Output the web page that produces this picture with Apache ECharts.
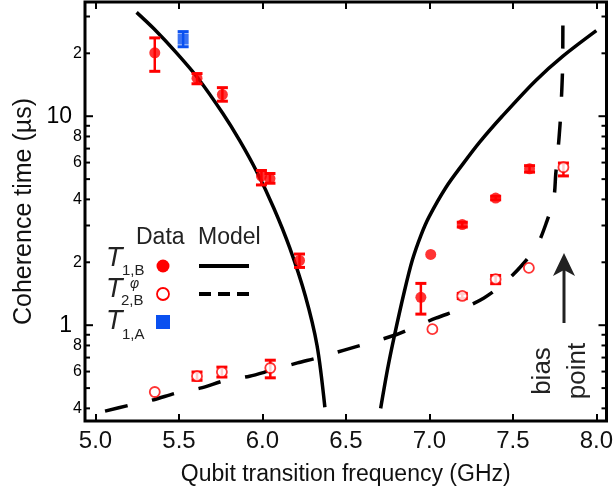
<!DOCTYPE html>
<html>
<head>
<meta charset="utf-8">
<title>Coherence time</title>
<script src="https://cdn.jsdelivr.net/npm/echarts@6/dist/echarts.min.js"></script>
<style>
    html, body { margin: 0; padding: 0; background: #fff; }
    #main { width: 616px; height: 491px; }
</style>
</head>
<body>
<div id="main"></div>
<script>
// measured T1 of qubit B (filled circles)
var t1bFreq = [5.355, 5.608, 5.76, 5.994, 6.045, 6.222, 6.949, 7.008, 7.197, 7.397, 7.6];
var t1bTime = [20.1, 15.2, 12.7, 5.17, 5.03, 2.04, 1.36, 2.18, 3.03, 4.06, 5.6];
var t1bLow = [16.4, 14.3, 11.8, 4.69, 4.78, 1.89, 1.13, 2.18, 2.95, 3.98, 5.4];
var t1bHigh = [23.7, 16.0, 13.7, 5.5, 5.32, 2.19, 1.585, 2.18, 3.11, 4.14, 5.8];

// measured T2 (phi) of qubit B (open circles)
var t2bFreq = [5.355, 5.608, 5.757, 6.047, 7.018, 7.197, 7.397, 7.596, 7.803];
var t2bTime = [0.479, 0.57, 0.597, 0.624, 0.957, 1.38, 1.66, 1.88, 5.7];
var t2bLow = [0.479, 0.545, 0.565, 0.56, 0.957, 1.34, 1.58, 1.88, 5.18];
var t2bHigh = [0.479, 0.597, 0.63, 0.68, 0.957, 1.42, 1.73, 1.88, 5.97];

// T1 of qubit A (blue square)
var t1aFreq = [5.525];
var t1aTime = [23.4];
var t1aLow = [21.5];
var t1aHigh = [25.4];

// model curves
var modelT1Left = [[5.246, 31.4], [5.35, 26.2], [5.485, 20.1], [5.614, 15.2], [5.763, 10.3], [5.863, 7.66],
    [5.963, 5.48], [6.069, 3.62], [6.163, 2.35], [6.257, 1.38], [6.327, 0.80], [6.374, 0.405]];
var modelT1Right = [[6.708, 0.40], [6.75, 0.62], [6.789, 0.88], [6.85, 1.45], [6.898, 2.05], [6.95, 2.7],
    [6.998, 3.3], [7.098, 4.55], [7.2, 5.9], [7.3, 7.5], [7.436, 10.0], [7.636, 14.8], [7.8, 19.4], [8.0, 25.7]];
var modelT2 = [[5.057, 0.388], [5.202, 0.414], [5.349, 0.44], [5.485, 0.474], [5.634, 0.501], [5.774, 0.543],
    [5.923, 0.57], [6.042, 0.605], [6.21, 0.66], [6.327, 0.697], [6.49, 0.76], [6.633, 0.82], [6.80, 0.9],
    [6.938, 1.0], [7.038, 1.08], [7.207, 1.21], [7.327, 1.35], [7.446, 1.585], [7.553, 1.93], [7.644, 2.40],
    [7.703, 3.13], [7.745, 4.03], [7.757, 5.30], [7.77, 6.8], [7.783, 9.2], [7.79, 11.7], [7.797, 16],
    [7.799, 20.8], [7.8, 31]];

// axis ticks / labels
var xTicks = [5.0, 5.5, 6.0, 6.5, 7.0, 7.5, 8.0];
var yTicks = [0.4, 0.5, 0.6, 0.7, 0.8, 0.9, 1, 2, 3, 4, 5, 6, 7, 8, 9, 10, 20, 30];
var yLabelValues = [0.4, 0.6, 0.8, 1, 2, 4, 6, 8, 10, 20];
var yLabelTexts = ['4', '6', '8', '1', '2', '4', '6', '8', '10', '2'];

var X_MIN = 4.937, X_MAX = 8.061;
var RED = '#ff0000', BLUE = '#0a50f0';
var FONT = 'Liberation Sans';

function zip(xs, ys) {
    return xs.map(function (x, i) { return [x, ys[i]]; });
}

function errData(xs, lo, hi) {
    return xs.map(function (x, i) { return [x, lo[i], hi[i]]; });
}

/**
 * error bar: vertical line with caps
 */
function errorBarRenderer(color) {
    return function (params, api) {
        var lo = api.coord([api.value(0), api.value(1)]);
        var hi = api.coord([api.value(0), api.value(2)]);
        if (Math.abs(lo[1] - hi[1]) < 1) {
            return null;
        }
        var w = 5.5;
        var s = {stroke: color, lineWidth: 2.5};
        return {
            type: 'group',
            children: [
                {type: 'line', shape: {x1: lo[0], y1: lo[1], x2: hi[0], y2: hi[1]}, style: s},
                {type: 'line', shape: {x1: lo[0] - w, y1: lo[1], x2: lo[0] + w, y2: lo[1]}, style: {stroke: color, lineWidth: 3}},
                {type: 'line', shape: {x1: hi[0] - w, y1: hi[1], x2: hi[0] + w, y2: hi[1]}, style: {stroke: color, lineWidth: 3}}
            ]
        };
    };
}

// y ticks on both frame sides (log axis)
function yTickRenderer(params, api) {
    var cs = params.coordSys;
    var v = api.value(1);
    var y = api.coord([X_MIN, v])[1];
    var major = Math.abs(Math.log10(v) % 1) < 1e-9;
    var len = major ? 8 : 5;
    var s = {stroke: '#000', lineWidth: 2};
    return {
        type: 'group',
        children: [
            {type: 'line', shape: {x1: cs.x, y1: y, x2: cs.x + len, y2: y}, style: s},
            {type: 'line', shape: {x1: cs.x + cs.width - len, y1: y, x2: cs.x + cs.width, y2: y}, style: s}
        ]
    };
}

function yLabelRenderer(params, api) {
    var cs = params.coordSys;
    var v = api.value(1);
    var idx = api.value(2);
    var y = api.coord([X_MIN, v])[1];
    var major = Math.abs(Math.log10(v) % 1) < 1e-9;
    return {
        type: 'text',
        style: {
            text: yLabelTexts[idx],
            x: cs.x - (major ? 13 : 3),
            y: y,
            align: 'right',
            verticalAlign: 'middle',
            font: (major ? 23 : 16) + 'px "' + FONT + '"',
            fill: '#000'
        }
    };
}

var legendText = function (text, x, y, size, italic) {
    return {
        type: 'text', x: x, y: y,
        style: {
            text: text, fill: '#222', align: 'left', verticalAlign: 'middle',
            font: (italic ? 'italic ' : '') + size + 'px "' + FONT + '"'
        }
    };
};

var graphics = [
    legendText('Data', 136, 238, 23),
    legendText('Model', 198, 238, 23),
    legendText('T', 106, 258, 27, true),
    legendText('1,B', 122, 271, 15),
    legendText('T', 106, 289, 27, true),
    legendText('\u03c6', 130, 284, 14, true),
    legendText('2,B', 121, 301, 15),
    legendText('T', 106, 321, 27, true),
    legendText('1,A', 122, 335, 15),
    {type: 'circle', shape: {cx: 163, cy: 266, r: 6.5}, style: {fill: RED}},
    {type: 'circle', shape: {cx: 163, cy: 294, r: 6}, style: {fill: '#fff', stroke: RED, lineWidth: 1.8}},
    {type: 'rect', shape: {x: 156, y: 315, width: 14, height: 14}, style: {fill: BLUE}},
    {type: 'line', shape: {x1: 199, y1: 266, x2: 249, y2: 266}, style: {stroke: '#000', lineWidth: 4}},
    {type: 'line', shape: {x1: 199, y1: 294, x2: 249, y2: 294}, style: {stroke: '#000', lineWidth: 4, lineDash: [12, 7]}},
    // bias point annotation
    {type: 'text', x: 543, y: 371, rotation: Math.PI / 2,
        style: {text: 'bias', font: '26px "' + FONT + '"', fill: '#222', align: 'center', verticalAlign: 'middle'}},
    {type: 'text', x: 578, y: 371, rotation: Math.PI / 2,
        style: {text: 'point', font: '26px "' + FONT + '"', fill: '#222', align: 'center', verticalAlign: 'middle'}},
    {type: 'line', shape: {x1: 564, y1: 323, x2: 564, y2: 268}, style: {stroke: '#222', lineWidth: 3}},
    {type: 'polygon', shape: {points: [[564, 253], [553, 276], [564, 270], [575, 276]]}, style: {fill: '#222'}}
];

var option = {
    animation: false,
    textStyle: {fontFamily: FONT},
    grid: {left: 85, right: 8, top: 2, bottom: 68, show: true, borderColor: '#000', borderWidth: 3},
    xAxis: [{
        type: 'value', min: X_MIN, max: X_MAX,
        name: 'Qubit transition frequency (GHz)', nameLocation: 'middle', nameGap: 42,
        nameTextStyle: {fontSize: 23, color: '#111', fontFamily: FONT},
        axisLine: {show: false},
        splitLine: {show: false},
        axisTick: {inside: true, length: 7, customValues: xTicks, lineStyle: {color: '#000', width: 2}},
        axisLabel: {
            customValues: xTicks, fontSize: 24, color: '#111', margin: 8,
            formatter: function (v) { return v.toFixed(1); }
        }
    }, {
        type: 'value', min: X_MIN, max: X_MAX, position: 'top',
        axisLine: {show: false},
        splitLine: {show: false},
        axisTick: {inside: true, length: 7, customValues: xTicks, lineStyle: {color: '#000', width: 2}},
        axisLabel: {show: false}
    }],
    yAxis: {
        type: 'log', logBase: 10, min: 0.348, max: 35.2,
        name: 'Coherence time (\u00b5s)', nameLocation: 'middle', nameGap: 48,
        nameTextStyle: {fontSize: 25, color: '#111', fontFamily: FONT},
        axisLine: {show: false},
        axisTick: {show: false},
        axisLabel: {show: false},
        splitLine: {show: false}
    },
    graphic: graphics,
    series: [
        {
            type: 'custom', renderItem: yTickRenderer, silent: true,
            encode: {x: 0, y: 1},
            data: yTicks.map(function (v) { return [X_MIN, v]; })
        },
        {
            type: 'custom', renderItem: yLabelRenderer, silent: true,
            encode: {x: 0, y: 1},
            data: yLabelValues.map(function (v, i) { return [X_MIN, v, i]; })
        },
        {
            name: 'model T1 left', type: 'line', smooth: 0.3, showSymbol: false, z: 3,
            lineStyle: {color: '#000', width: 3.5},
            data: modelT1Left
        },
        {
            name: 'model T1 right', type: 'line', smooth: 0.3, showSymbol: false, z: 3,
            lineStyle: {color: '#000', width: 3.5},
            data: modelT1Right
        },
        {
            name: 'model T2', type: 'line', smooth: 0.3, showSymbol: false, z: 3,
            lineStyle: {color: '#000', width: 3.5, type: [23, 25], cap: 'butt'},
            data: modelT2
        },
        {
            type: 'custom', renderItem: errorBarRenderer(RED), z: 4,
            encode: {x: 0, y: [1, 2]},
            data: errData(t1bFreq, t1bLow, t1bHigh).concat(errData(t2bFreq, t2bLow, t2bHigh))
        },
        {
            type: 'custom', renderItem: errorBarRenderer(BLUE), z: 4,
            encode: {x: 0, y: [1, 2]},
            data: errData(t1aFreq, t1aLow, t1aHigh)
        },
        {
            name: 'T1,B', type: 'scatter', symbol: 'circle', symbolSize: 11, z: 5,
            itemStyle: {color: RED},
            data: zip(t1bFreq, t1bTime)
        },
        {
            name: 'T2,B', type: 'scatter', symbol: 'circle', symbolSize: 10, z: 5,
            itemStyle: {color: '#fff', borderColor: RED, borderWidth: 1.8},
            data: zip(t2bFreq, t2bTime)
        },
        {
            name: 'T1,A', type: 'scatter', symbol: 'rect', symbolSize: 11, z: 5,
            itemStyle: {color: BLUE},
            data: zip(t1aFreq, t1aTime)
        }
    ]
};

var myChart = echarts.init(document.getElementById('main'));
myChart.setOption(option);
</script>
</body>
</html>
